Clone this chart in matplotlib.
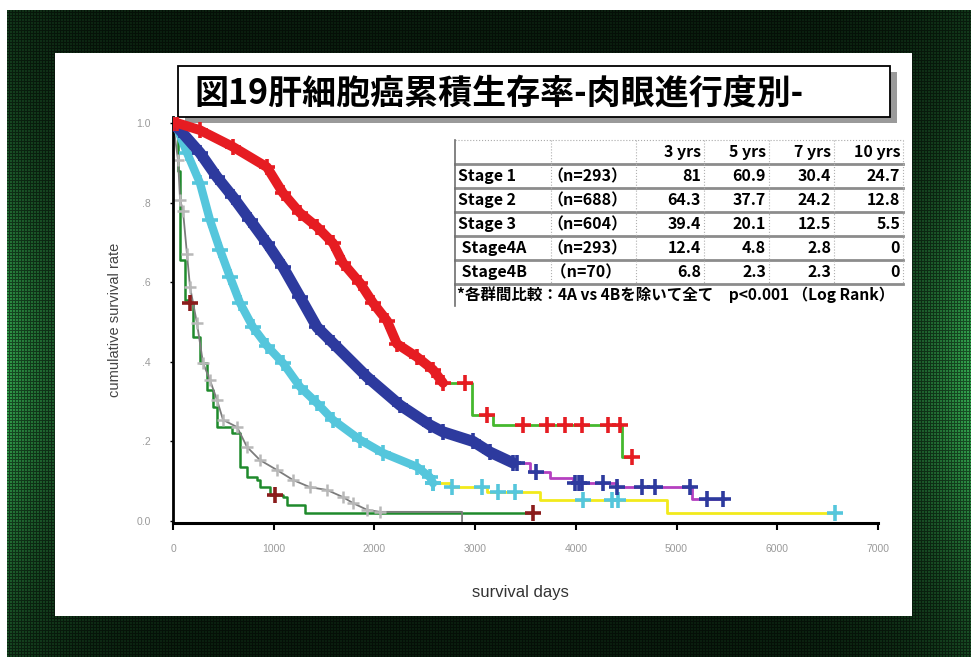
import numpy as np
import matplotlib
matplotlib.use("Agg")
import matplotlib.pyplot as plt
from matplotlib.patches import Rectangle

plt.rcParams["font.family"] = ["Noto Sans CJK JP", "DejaVu Sans"]

W, H = 971, 657

title = "図19肝細胞癌累積生存率-肉眼進行度別-"

# Stage 1 (red marks, green line)
s1_days = [0, 40, 268, 596, 933, 1092, 1261, 1430, 1589, 1688, 1857, 1986, 2125, 2224, 2423, 2582, 2681]
s1_surv = [1.0, 1.0, 0.982, 0.94, 0.889, 0.824, 0.774, 0.739, 0.698, 0.648, 0.598, 0.548, 0.503, 0.445, 0.412, 0.38, 0.347]
s1_tail_days = [2681, 2970, 3180, 4460, 4560]
s1_tail_surv = [0.347, 0.266, 0.241, 0.161, 0.161]
s1_cens = [2900, 3118, 3476, 3714, 3893, 4062, 4320, 4439, 4558]

# Stage 2 (blue marks, magenta line)
s2_days = [0, 70, 268, 437, 596, 765, 933, 1092, 1261, 1430, 1589, 1927, 2254, 2552, 2681, 2979, 3148, 3376]
s2_surv = [1.0, 0.982, 0.925, 0.864, 0.814, 0.756, 0.698, 0.638, 0.563, 0.487, 0.447, 0.362, 0.291, 0.241, 0.224, 0.2, 0.173, 0.146]
s2_tail_days = [3376, 3545, 3744, 3972, 4409, 5150, 5480]
s2_tail_surv = [0.146, 0.123, 0.108, 0.095, 0.085, 0.055, 0.055]
s2_cens = [3420, 3600, 3992, 4030, 4060, 4270, 4409, 4657, 4787, 5134, 5303, 5462]

# Stage 3 (cyan marks, yellow line)
s3_days = [0, 20, 139, 268, 367, 467, 566, 665, 794, 933, 1092, 1261, 1430, 1589, 1857, 2085, 2423, 2552, 2582]
s3_surv = [1.0, 1.0, 0.925, 0.849, 0.756, 0.681, 0.613, 0.548, 0.487, 0.44, 0.397, 0.337, 0.296, 0.254, 0.204, 0.171, 0.136, 0.11, 0.095]
s3_tail_days = [2582, 2751, 3118, 3645, 4906, 6574]
s3_tail_surv = [0.095, 0.085, 0.073, 0.053, 0.02, 0.02]
s3_cens = [2582, 2770, 3068, 3227, 3396, 4071, 4359, 4419, 6574]

# Stage 4A (grey)
s4a_days = [0, 50, 70, 99, 139, 169, 238, 298, 367, 437, 497, 636, 735, 864, 1033, 1192, 1360, 1529,
            1688, 1787, 1927, 2056, 2870, 2870]
s4a_surv = [1.0, 0.907, 0.807, 0.78, 0.67, 0.588, 0.497, 0.397, 0.354, 0.304, 0.254, 0.236, 0.186, 0.153,
            0.128, 0.103, 0.085, 0.078, 0.06, 0.045, 0.028, 0.023, 0.023, 0.0]

# Stage 4B (green line, dark red marks)
s4b_days = [0, 30, 50, 70, 70, 119, 169, 199, 268, 338, 397, 437, 566, 586, 665, 735, 834, 864, 963,
            1092, 1132, 1291, 1311, 3575]
s4b_surv = [1.0, 0.98, 0.88, 0.82, 0.656, 0.555, 0.548, 0.462, 0.397, 0.329, 0.286, 0.236, 0.236, 0.221,
            0.136, 0.11, 0.103, 0.085, 0.065, 0.06, 0.04, 0.04, 0.02, 0.02]
s4b_cens = [169, 1013, 3575]

x_ticks = [0, 1000, 2000, 3000, 4000, 5000, 6000, 7000]
x_tick_labels = ["0", "1000", "2000", "3000", "4000", "5000", "6000", "7000"]
y_ticks = [0.0, 0.2, 0.4, 0.6, 0.8, 1.0]
y_tick_labels = ["0.0", ".2", ".4", ".6", ".8", "1.0"]

table_header = ["3 yrs", "5 yrs", "7 yrs", "10 yrs"]
table_stage = ["Stage 1", "Stage 2", "Stage 3", " Stage4A", " Stage4B"]
table_n = ["（n=293）", "（n=688）", "（n=604）", "（n=293）", " （n=70）"]
table_rates = [
    ["81", "60.9", "30.4", "24.7"],
    ["64.3", "37.7", "24.2", "12.8"],
    ["39.4", "20.1", "12.5", "5.5"],
    ["12.4", "4.8", "2.8", "0"],
    ["6.8", "2.3", "2.3", "0"],
]
footnote = "*各群間比較：4A vs 4Bを除いて全て　p<0.001 （Log Rank）"


def surv_at(days, surv, t):
    idx = np.searchsorted(days, t, side="right") - 1
    return np.asarray(surv)[np.clip(idx, 0, len(surv) - 1)]


def green_background():
    yy, xx = np.mgrid[0:H, 0:W]
    xf = xx / W
    yf = yy / H
    edge = np.exp(-np.minimum(xf, 1 - xf) / 0.07)
    mid = np.exp(-((yf - 0.58) / 0.32) ** 2)
    glow = edge * (0.15 + 0.85 * mid)
    dark = np.array([10, 30, 14]) / 255
    bright = np.array([52, 170, 80]) / 255
    img = dark + glow[..., None] * (bright - dark)
    grid = (xx % 3 == 0) | (yy % 3 == 0)
    img = img * np.where(grid, 0.5, 1.0)[..., None]
    img[:10, :] = 1
    img[:, :7] = 1
    return np.clip(img, 0, 1)


def draw_slide(bg):
    bg.imshow(green_background(), extent=(0, W, H, 0), interpolation="nearest", aspect="auto")
    bg.add_patch(Rectangle((55, 53), 857, 563, facecolor="white", edgecolor="none"))
    # title box with shadow
    bg.add_patch(Rectangle((185, 72), 712, 51, facecolor="#9a9a9a", edgecolor="none"))
    bg.add_patch(Rectangle((178, 66), 712, 51, facecolor="white", edgecolor="black", lw=1.3))
    bg.text(194, 93, title, fontsize=24.5, fontweight="bold", ha="left", va="center", color="black")
    bg.set_xlim(0, W)
    bg.set_ylim(H, 0)
    bg.axis("off")


def draw_table(bg):
    cols = [455, 551, 636, 704, 769, 834, 903]
    rows = [140, 164, 188, 212, 236, 260, 284, 306]
    bg.add_patch(Rectangle((455, 140), 448, 166, facecolor="white", edgecolor="none"))
    bg.plot([455, 903], [140, 140], color="#aaaaaa", lw=0.8, ls=":")
    for y in rows[1:-1]:
        bg.plot([455, 903], [y, y], color="#8c8c8c", lw=2.0)
    for x in cols[1:]:
        bg.plot([x, x], [140, 284], color="#b0b0b0", lw=0.8, ls=":")
    bg.plot([455, 455], [140, 306], color="#6e6e6e", lw=1.2)
    fs = 11.5
    for j, h in enumerate(table_header):
        bg.text(cols[j + 3] - 3, (rows[0] + rows[1]) / 2, h, fontsize=fs, fontweight="bold",
                ha="right", va="center")
    for i in range(len(table_stage)):
        yc = (rows[i + 1] + rows[i + 2]) / 2
        bg.text(458, yc, table_stage[i], fontsize=fs, fontweight="bold", ha="left", va="center")
        bg.text(cols[1] - 4, yc, table_n[i], fontsize=fs, fontweight="bold", ha="left", va="center")
        for j, v in enumerate(table_rates[i]):
            bg.text(cols[j + 3] - 3, yc, v, fontsize=fs, fontweight="bold", ha="right", va="center")
    bg.text(457, (rows[6] + rows[7]) / 2, footnote, fontsize=11.2, fontweight="bold",
            ha="left", va="center")


def draw_band(ax, days, surv, mark_color, line_color, width):
    ax.plot(days, surv, color=line_color, lw=1.2, zorder=2)
    ax.plot(days, surv, color=mark_color, lw=width, solid_capstyle="round", zorder=3)
    ax.plot(days, surv, ls="none", marker="+", ms=12, mew=2.6, color=mark_color, zorder=3)


def draw_tail(ax, days, surv, cens, mark_color, line_color):
    ax.plot(days, surv, drawstyle="steps-post", color=line_color, lw=2.0, zorder=2)
    ax.plot(cens, surv_at(days, surv, cens), ls="none", marker="+", ms=11, mew=2.6,
            color=mark_color, zorder=4)


def main():
    fig = plt.figure(figsize=(W / 100, H / 100), dpi=100)
    bg = fig.add_axes([0, 0, 1, 1], zorder=0)
    draw_slide(bg)
    draw_table(bg)

    ax = fig.add_axes([173 / W, 1 - 523 / H, 705 / W, 406 / H], zorder=1)
    ax.patch.set_alpha(0)
    ax.set_xlim(0, 7000)
    ax.set_ylim(-0.005, 1.015)

    # stage 4B and 4A first, they sit under the others
    ax.plot(s4b_days, s4b_surv, drawstyle="steps-post", color="#1f8a2c", lw=1.8, zorder=2)
    ax.plot(s4b_cens, surv_at(s4b_days, s4b_surv, s4b_cens), ls="none", marker="+", ms=12,
            mew=2.6, color="#8b1c1c", zorder=4)
    ax.plot(s4a_days, s4a_surv, color="#7c7c7c", lw=1.3, zorder=2)
    ax.plot(s4a_days[:-2], s4a_surv[:-2], ls="none", marker="+", ms=9, mew=1.8,
            color="#b8b8b8", zorder=2)

    draw_tail(ax, s3_tail_days, s3_tail_surv, s3_cens, "#55c6dc", "#f2ea1c")
    draw_band(ax, s3_days, s3_surv, "#55c6dc", "#f2ea1c", 6)
    draw_tail(ax, s2_tail_days, s2_tail_surv, s2_cens, "#2d3a9e", "#b540c0")
    draw_band(ax, s2_days, s2_surv, "#2d3a9e", "#b540c0", 8)
    draw_tail(ax, s1_tail_days, s1_tail_surv, s1_cens, "#e61c22", "#45b82e")
    draw_band(ax, s1_days, s1_surv, "#e61c22", "#45b82e", 7)

    for side in ["top", "right"]:
        ax.spines[side].set_visible(False)
    ax.spines["left"].set_linewidth(2.0)
    ax.spines["bottom"].set_linewidth(2.2)

    ax.set_xticks(x_ticks)
    ax.set_xticklabels(x_tick_labels, fontfamily="Liberation Sans")
    ax.set_yticks(y_ticks)
    ax.set_yticklabels(y_tick_labels, fontfamily="Liberation Sans")
    ax.tick_params(axis="x", length=5, width=1.5, pad=10, labelsize=7.5, labelcolor="#9a9a9a")
    ax.tick_params(axis="y", length=2, width=1, pad=14, labelsize=7.5, labelcolor="#9a9a9a")

    fig.text(115 / W, 1 - 320 / H, "cumulative survival rate", rotation=90, ha="center", va="center",
             fontsize=10.5, color="#444444", fontfamily="Liberation Sans")
    fig.text(520 / W, 1 - 593 / H, "survival days", ha="center", va="center",
             fontsize=12, color="#333333", fontfamily="Liberation Sans")

    fig.savefig("out.png", dpi=100)


if __name__ == "__main__":
    main()
